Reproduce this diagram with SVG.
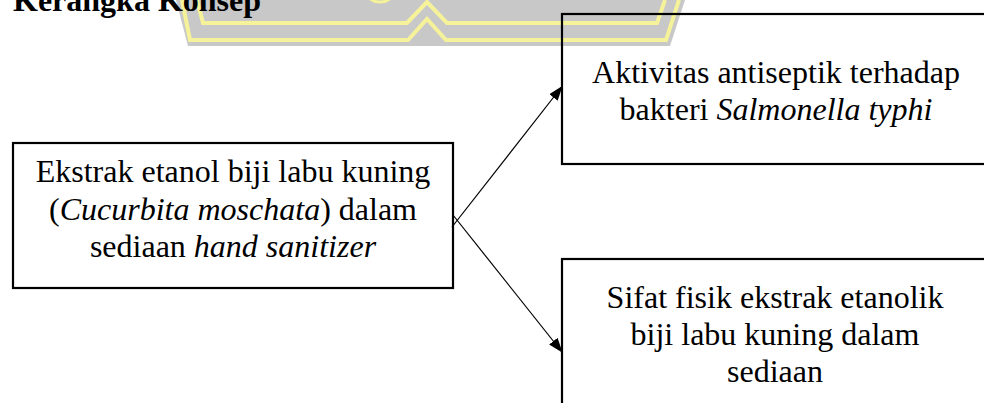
<svg xmlns="http://www.w3.org/2000/svg" width="984" height="403" viewBox="0 0 984 403">
  <style>
    .box { fill: none; stroke: #000; stroke-width: 2.2; }
    .txt { font-family: "Liberation Serif", "Times New Roman", serif; font-size: 32px; fill: #000; text-anchor: middle; }
    .title { font-family: "Liberation Serif", "Times New Roman", serif; font-size: 32px; font-weight: bold; fill: #000; }
    .conn { stroke: #000; stroke-width: 1.2; fill: none; marker-end: url(#arrow); }
    .wm-y { fill: none; stroke: #f6f29a; stroke-width: 4; stroke-linejoin: miter; }
  </style>
  <defs>
    <marker id="arrow" viewBox="0 0 14 10" refX="13" refY="5" markerWidth="15" markerHeight="11" markerUnits="userSpaceOnUse" orient="auto">
      <path d="M0,0 L14,5 L0,10 Z" fill="#000"/>
    </marker>
  </defs>
  <rect width="984" height="403" fill="#fff"/>

  <g id="watermark">
    <polygon points="176,0 188,46 670,46 685,0" fill="#c8c8c8"/>
    <polyline class="wm-y" points="197,0 203,23 407,23 427,2 447,23 657,23 665,0"/>
    <polyline class="wm-y" points="182,0 190,40 408,40 427,19 446,40 666,40 679,0"/>
    <ellipse cx="380" cy="-6" rx="12" ry="8" fill="none" stroke="#f6f29a" stroke-width="3"/>
  </g>

  <g id="title">
    <text class="title" x="13" y="11">Kerangka Konsep</text>
  </g>

  <g id="connectors">
    <line class="conn" x1="452" y1="227" x2="562" y2="86.5"/>
    <line class="conn" x1="453" y1="215" x2="562" y2="352"/>
  </g>

  <g id="node-ekstrak">
    <rect class="box" x="13" y="143" width="440" height="145"/>
    <text class="txt" x="233" y="182">Ekstrak etanol biji labu kuning</text>
    <text class="txt" x="233" y="219.5">(<tspan font-style="italic">Cucurbita moschata</tspan>) dalam</text>
    <text class="txt" x="233" y="257">sediaan <tspan font-style="italic">hand sanitizer</tspan></text>
  </g>

  <g id="node-aktivitas">
    <rect class="box" x="562" y="14" width="428" height="150"/>
    <text class="txt" x="776" y="83">Aktivitas antiseptik terhadap</text>
    <text class="txt" x="776" y="120">bakteri <tspan font-style="italic">Salmonella typhi</tspan></text>
  </g>

  <g id="node-sifat">
    <rect class="box" x="562" y="259" width="428" height="160"/>
    <text class="txt" x="775" y="308">Sifat fisik ekstrak etanolik</text>
    <text class="txt" x="775" y="345">biji labu kuning dalam</text>
    <text class="txt" x="775" y="382">sediaan</text>
  </g>
</svg>
